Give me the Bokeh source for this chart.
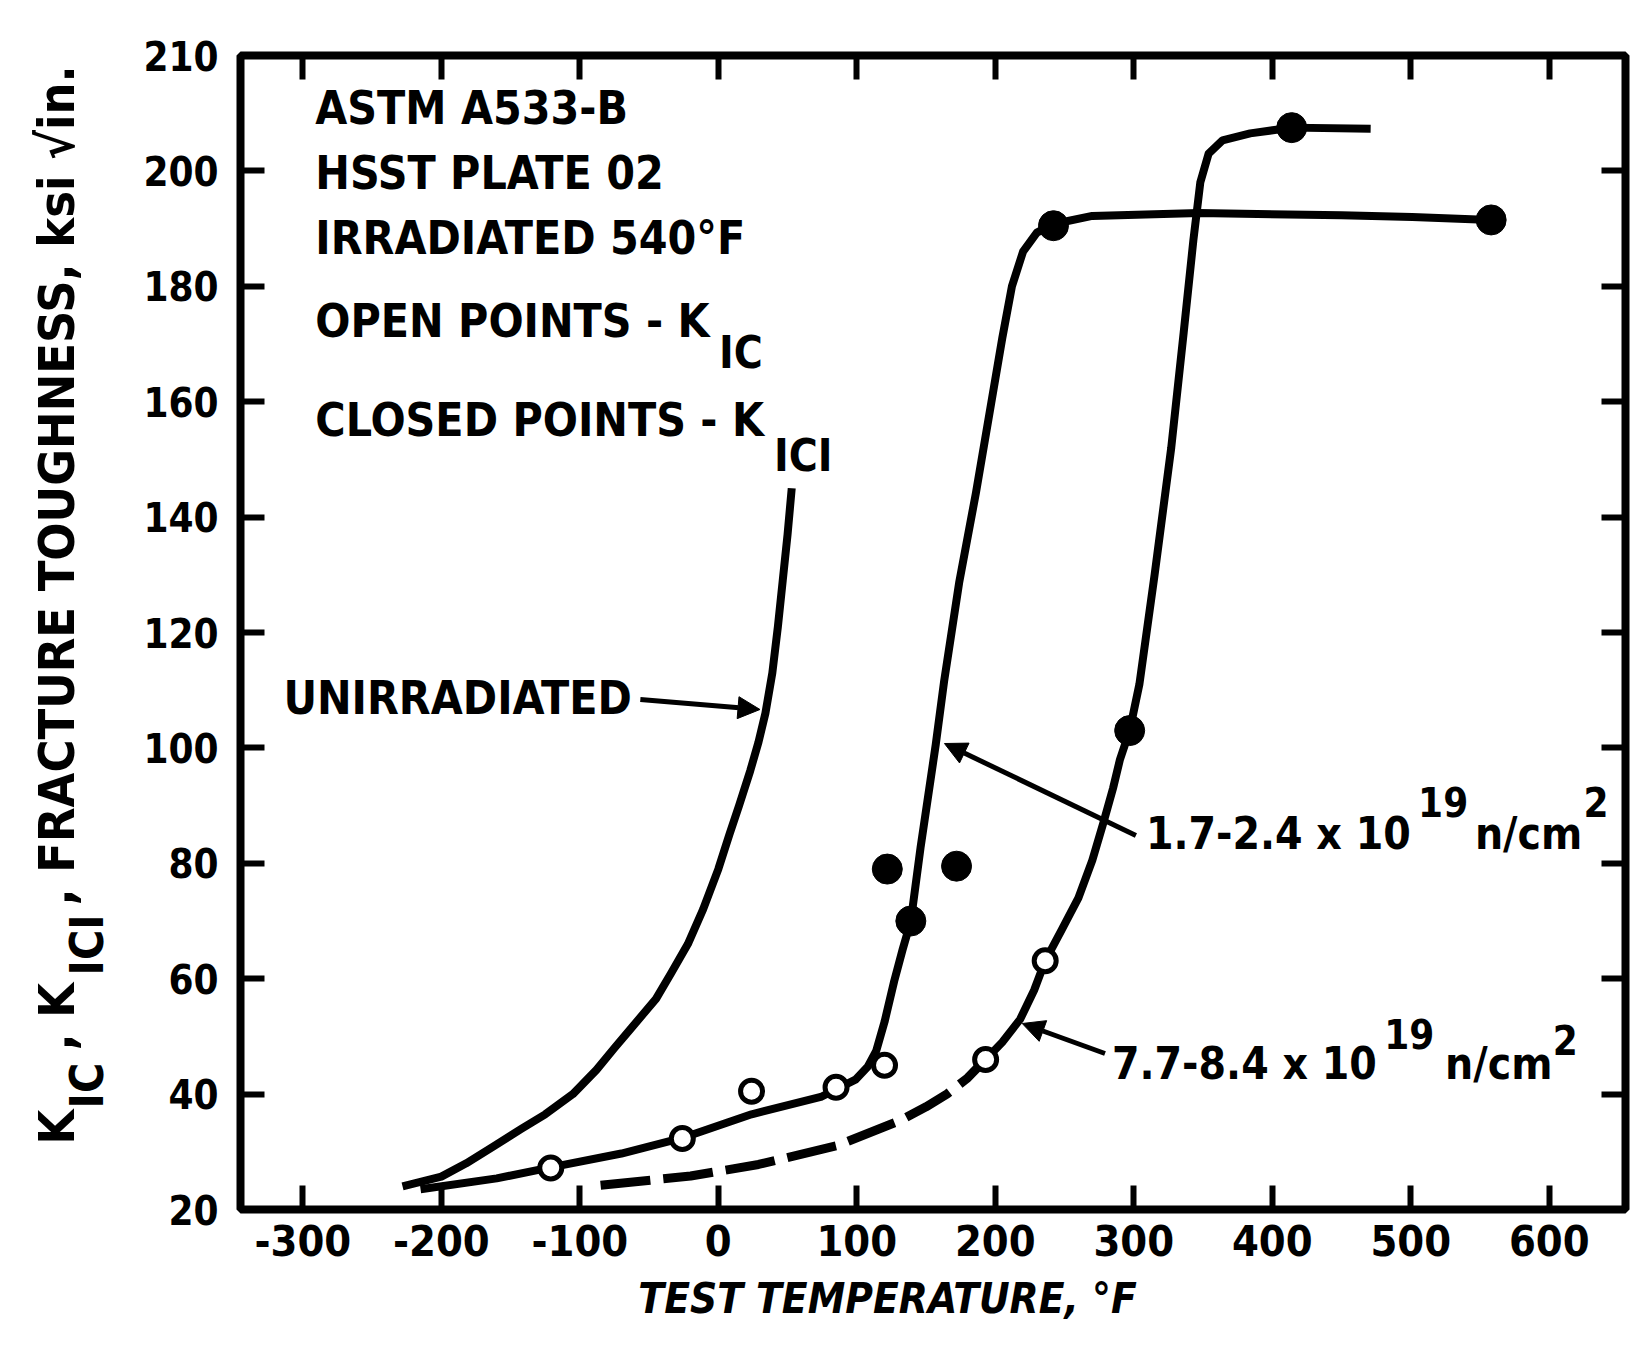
import math

from bokeh.embed import file_html
from bokeh.layouts import column, row
from bokeh.models import Arrow, FixedTicker, Label, LinearAxis, NormalHead, Range1d
from bokeh.plotting import figure
from bokeh.resources import INLINE

# ---- data: fracture toughness (ksi sqrt(in.)) vs test temperature (deg F) ----
# unirradiated reference curve
unirr_temp = [-228, -200, -182, -162, -142, -125, -105, -88, -75, -63, -45, -34, -22, -11, 0,
              8, 15, 23, 29, 34, 39, 43, 46.5, 50, 53]
unirr_k = [24.0, 25.7, 28.0, 31.0, 34.0, 36.5, 40.0, 44.2, 48.0, 51.4, 56.5, 61.0, 66.0, 72.0,
           79.0, 85.0, 90.0, 96.0, 101.0, 106.0, 113.0, 121.0, 129.0, 137.0, 145.0]

# 1.7-2.4 x 10^19 n/cm^2 trend curve
low_temp = [-215, -160, -121, -70, -26, 24, 74, 99, 108, 114, 120, 127, 133, 139, 146, 157,
            163, 174, 186, 197, 205, 212, 220, 230, 242, 270, 347, 450, 501, 558]
low_k = [23.5, 25.4, 27.3, 29.7, 32.4, 36.5, 39.5, 42.5, 44.8, 47.5, 52.5, 59.6, 65.0, 70.0,
         82.7, 100.6, 111.5, 128.8, 144.2, 159.7, 171.0, 180.0, 186.0, 189.3, 190.8, 192.2,
         192.7, 192.3, 192.0, 191.5]
low_open_temp = [-121, -26, 24, 85, 120]
low_open_k = [27.2, 32.3, 40.5, 41.2, 45.0]
low_closed_temp = [139, 122, 172, 242, 558]
low_closed_k = [70.0, 79.0, 79.5, 190.5, 191.5]

# 7.7-8.4 x 10^19 n/cm^2 trend curve (dashed below the lowest open point)
high_dash_temp = [-85, -20, 29, 86, 132, 150, 165, 180, 193]
high_dash_k = [24.2, 25.8, 27.8, 31.1, 35.5, 37.8, 40.0, 42.8, 46.0]
high_temp = [193, 205, 218, 228, 236, 248, 260, 270, 278, 285, 290, 297, 304, 315, 327, 336,
             343, 348, 354, 364, 384, 414, 471]
high_k = [46.0, 49.0, 53.0, 58.0, 63.1, 68.5, 74.0, 80.5, 87.0, 93.0, 98.0, 103.0, 111.0,
          130.0, 152.0, 172.0, 188.0, 198.0, 203.0, 205.3, 206.5, 207.5, 207.3]
high_open_temp = [193, 236]
high_open_k = [46.0, 63.1]
high_closed_temp = [297, 414]
high_closed_k = [103.0, 207.5]

x_ticks = [-300, -200, -100, 0, 100, 200, 300, 400, 500, 600]
x_tick_text = {t: str(t) for t in x_ticks}          # plain hyphen for the minus sign
y_ticks = [20, 40, 60, 80, 100, 120, 140, 160, 180, 200, 220]
y_tick_text = {220: "210"}

FONT = "'DejaVu Sans Condensed', 'DejaVu Sans', sans-serif"
INK = "black"

# page geometry (pixels)
TITLE_W = 140                      # strip holding the vertical axis title
MAIN_W, MAIN_H = 1491, 1275
FOOT_H = 81                        # strip holding the horizontal axis title
PAGE_H = MAIN_H + FOOT_H
FRAME_LEFT, FRAME_RIGHT, FRAME_TOP, FRAME_BOTTOM = 236, 1625, 55, 1209
X_MIN, X_MAX, Y_MIN, Y_MAX = -345, 655, 20, 220
SX = (FRAME_RIGHT - FRAME_LEFT) / (X_MAX - X_MIN)
SY = (FRAME_BOTTOM - FRAME_TOP) / (Y_MAX - Y_MIN)
BORDER_L = FRAME_LEFT - TITLE_W
BORDER_R = TITLE_W + MAIN_W - FRAME_RIGHT
DROP = 0.4                         # baseline correction, in em


def page_to_data(px, py):
    """Page pixel position -> data coordinates of the main plot."""
    return X_MIN + (px - FRAME_LEFT) / SX, Y_MIN + (FRAME_BOTTOM - py) / SY


p = figure(
    width=MAIN_W, height=MAIN_H,
    x_range=Range1d(X_MIN, X_MAX), y_range=Range1d(Y_MIN, Y_MAX),
    output_backend="svg", toolbar_location=None,
    min_border_left=BORDER_L, min_border_right=BORDER_R,
    min_border_top=FRAME_TOP, min_border_bottom=MAIN_H - FRAME_BOTTOM,
    background_fill_color="white", border_fill_color="white",
)
p.grid.visible = False
p.outline_line_color = INK
p.outline_line_width = 8


def style_axis(ax, ticks, show_labels, size=42):
    ax.ticker = FixedTicker(ticks=ticks)
    ax.axis_line_color = None
    ax.major_tick_in = 24
    ax.major_tick_out = 0
    ax.major_tick_line_width = 6
    ax.major_tick_line_color = INK
    ax.minor_tick_line_color = None
    if show_labels:
        ax.major_label_text_font = FONT
        ax.major_label_text_font_style = "bold"
        ax.major_label_text_font_size = f"{size}px"
        ax.major_label_text_color = INK
    else:
        ax.major_label_text_font_size = "0px"
        ax.major_label_text_color = None
        ax.major_label_standoff = 0


style_axis(p.xaxis[0], x_ticks, True, 43)
p.xaxis[0].major_label_standoff = 15
p.xaxis[0].major_label_overrides = x_tick_text
style_axis(p.yaxis[0], y_ticks, True, 40)
p.yaxis[0].major_label_standoff = 22
p.yaxis[0].major_label_overrides = y_tick_text

top = LinearAxis()
style_axis(top, x_ticks, False)
p.add_layout(top, "above")
right = LinearAxis()
style_axis(right, y_ticks[1:-1], False)
p.add_layout(right, "right")

# curves
p.line(unirr_temp, unirr_k, line_color=INK, line_width=8, line_join="round")
p.line(low_temp, low_k, line_color=INK, line_width=8, line_join="round")
p.line(high_dash_temp, high_dash_k, line_color=INK, line_width=9, line_dash="50 13")
p.line(high_temp, high_k, line_color=INK, line_width=8, line_join="round")

# open points: K_IC, closed points: K_ICI
for tx, ky in ((low_open_temp, low_open_k), (high_open_temp, high_open_k)):
    p.scatter(tx, ky, marker="circle", size=22, fill_color="white", line_color=INK, line_width=5)
for tx, ky in ((low_closed_temp, low_closed_k), (high_closed_temp, high_closed_k)):
    p.scatter(tx, ky, marker="circle", size=30, fill_color=INK, line_color=INK)


def put(fig, text, x, y, size, angle=0.0, style="bold"):
    fig.add_layout(Label(x=x, y=y, text=text, angle=angle, text_font=FONT,
                         text_font_size=f"{size}px", text_font_style=style,
                         text_align="left", text_baseline="alphabetic", text_color=INK))


def note(text, px, py, size=46):
    x, y = page_to_data(px, py - DROP * size)
    put(p, text, x, y, size)


# legend block, upper left
note("ASTM A533-B", 311, 126)
note("HSST PLATE 02", 311, 191)
note("IRRADIATED 540°F", 311, 256)
note("OPEN POINTS - K", 311, 339)
note("IC", 716, 370, 44)
note("CLOSED POINTS - K", 311, 438)
note("ICI", 771, 473, 44)

# curve labels
note("UNIRRADIATED", 279, 716)
note("1.7-2.4 x 10", 1144, 851, 44)
note("19", 1417, 817, 40)
note("n/cm", 1474, 851, 44)
note("2", 1583, 817, 40)
note("7.7-8.4 x 10", 1110, 1081, 44)
note("19", 1383, 1049, 40)
note("n/cm", 1444, 1081, 44)
note("2", 1552, 1055, 40)

# leaders from the labels to their curves
leaders = [((637, 699), (757, 709)), ((1134, 835), (942, 743)), ((1103, 1053), (1020, 1023))]
for (pxs, pys), (pxe, pye) in leaders:
    xs, ys = page_to_data(pxs, pys)
    xe, ye = page_to_data(pxe, pye)
    p.add_layout(Arrow(x_start=xs, y_start=ys, x_end=xe, y_end=ye, line_color=INK, line_width=5,
                       end=NormalHead(size=22, fill_color=INK, line_color=INK)))


def strip(width, height, x_range, **borders):
    s = figure(width=width, height=height, x_range=x_range, y_range=Range1d(height, 0),
               output_backend="svg", toolbar_location=None,
               x_axis_location=None, y_axis_location=None,
               background_fill_color="white", border_fill_color="white", **borders)
    s.grid.visible = False
    s.outline_line_color = None
    return s


# vertical axis title: K_IC, K_ICI, FRACTURE TOUGHNESS, ksi sqrt(in.)
ytitle = strip(TITLE_W, PAGE_H, Range1d(0, TITLE_W), min_border=0)
up = math.pi / 2


def vnote(text, px, py, size):
    put(ytitle, text, px - DROP * size, py, size, angle=up)


vnote("K", 76, 1144, 50)
vnote("IC", 105, 1108, 46)
vnote(", K", 76, 1050, 50)
vnote("ICI", 105, 975, 46)
vnote(", FRACTURE TOUGHNESS, ksi √in.", 76, 905, 50)

# horizontal axis title, in a strip sharing the main plot's x scale
xtitle = strip(MAIN_W, FOOT_H, Range1d(X_MIN, X_MAX), min_border_left=BORDER_L,
               min_border_right=BORDER_R, min_border_top=0, min_border_bottom=0)
put(xtitle, "TEST TEMPERATURE, °F", page_to_data(635, 0)[0], 1315 - MAIN_H - DROP * 42, 42,
    style="bold italic")

page = row(ytitle, column(p, xtitle))
open("out.html", "w").write(file_html(page, INLINE))
